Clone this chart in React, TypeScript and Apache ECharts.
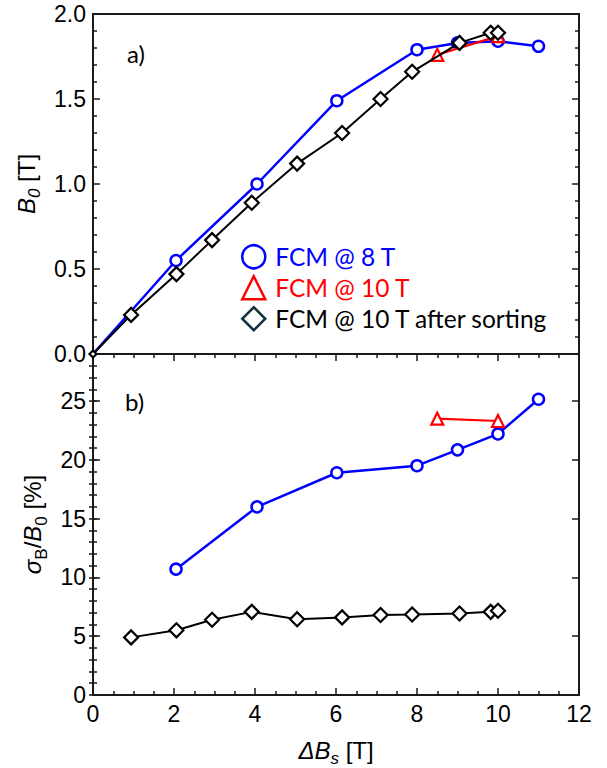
import React, { useEffect, useRef } from 'react';
import * as echarts from 'echarts';

// ---- data ----
const xBlue = [2.05, 4.05, 6.02, 8.0, 9.0, 10.0, 11.0];
const blueB0 = [0.55, 1.0, 1.49, 1.79, 1.83, 1.84, 1.81];
const blueSigma = [10.7, 16.0, 18.9, 19.5, 20.85, 22.2, 25.15];

const xRed = [8.5, 10.0];
const redB0 = [1.76, 1.87];
const redSigma = [23.5, 23.3];

const xBlack = [0.94, 2.06, 2.94, 3.92, 5.04, 6.15, 7.1, 7.88, 9.05, 9.82, 10.0];
const blackB0 = [0.23, 0.47, 0.67, 0.89, 1.12, 1.3, 1.5, 1.66, 1.83, 1.89, 1.89];
const blackSigma = [4.9, 5.5, 6.4, 7.07, 6.45, 6.6, 6.8, 6.85, 6.93, 7.07, 7.16];

const seriesNames = ['FCM @ 8 T', 'FCM @ 10 T', 'FCM @ 10 T after sorting'];
const panelLabels = ['a)', 'b)'];

const BLUE = '#0000ff';
const RED = '#ff0000';
const BLACK = '#000000';
const AXIS = '#1a1a1a';
const TICK_FONT = 'Liberation Sans, Arial, sans-serif';
const LABEL_FONT = 'Lato, Open Sans, sans-serif';

const zip = (xs: number[], ys: number[]) => xs.map((x, i) => [x, ys[i]]);

const LH = 29;
const richName = {
  i: { fontStyle: 'italic', fontSize: 24, fontFamily: TICK_FONT, color: '#000', lineHeight: LH, verticalAlign: 'top' },
  n: { fontSize: 24, fontFamily: TICK_FONT, color: '#000', lineHeight: LH, verticalAlign: 'top' },
  s: { fontSize: 17, fontFamily: TICK_FONT, color: '#000', lineHeight: LH, verticalAlign: 'bottom' },
  si: { fontSize: 17, fontStyle: 'italic', fontFamily: TICK_FONT, color: '#000', lineHeight: LH, verticalAlign: 'bottom' },
};

const axisLine = { show: true, onZero: false, lineStyle: { color: AXIS, width: 2 } };
const majorTick = { show: true, inside: true, length: 7, lineStyle: { color: AXIS, width: 1.5 } };
const minorTickX = { show: true, splitNumber: 4, length: 4, lineStyle: { color: AXIS, width: 1.5 } };
const tickLabel = { fontSize: 23, fontFamily: TICK_FONT, color: '#000', margin: 7 };

export default function App() {
  const ref = useRef<HTMLDivElement>(null);
  useEffect(() => {
    if (!ref.current) return;
    const chart = echarts.init(ref.current, null, { renderer: 'svg' });

    const topBlue = [{ value: [0, 0], symbol: 'none' }, ...zip(xBlue, blueB0)];
    const topBlack = [{ value: [0, 0], symbolSize: 7 }, ...zip(xBlack, blackB0)];

    const blueStyle = {
      type: 'line',
      name: seriesNames[0],
      symbol: 'circle',
      symbolSize: 11,
      itemStyle: { color: '#ffffff', borderColor: BLUE, borderWidth: 2.5 },
      lineStyle: { color: BLUE, width: 2.5 },
      clip: false,
      z: 2,
    };
    const redStyle = {
      type: 'line',
      name: seriesNames[1],
      symbol: 'triangle',
      symbolSize: 12,
      itemStyle: { color: '#ffffff', borderColor: RED, borderWidth: 2.2 },
      lineStyle: { color: RED, width: 2.2 },
      clip: false,
      z: 3,
    };
    const blackStyle = {
      type: 'line',
      name: seriesNames[2],
      symbol: 'diamond',
      symbolSize: 14,
      itemStyle: { color: '#ffffff', borderColor: BLACK, borderWidth: 2.2 },
      lineStyle: { color: BLACK, width: 2 },
      clip: false,
      z: 4,
    };

    chart.setOption({
      animation: false,
      backgroundColor: '#ffffff',
      grid: [
        { left: 93, right: 28, top: 14, height: 340 },
        { left: 93, right: 28, top: 354, height: 341 },
      ],
      legend: {
        orient: 'vertical',
        left: 236,
        top: 239,
        itemWidth: 23,
        itemHeight: 23,
        itemGap: 5.5,
        textStyle: { fontSize: 24.5, lineHeight: 25, fontFamily: LABEL_FONT, padding: [0, 0, 0, 5] },
        data: [
          { name: seriesNames[0], icon: 'circle', itemStyle: { color: '#fff', borderColor: BLUE, borderWidth: 2.5 }, textStyle: { color: BLUE } },
          { name: seriesNames[1], icon: 'triangle', itemStyle: { color: '#fff', borderColor: RED, borderWidth: 2.5 }, textStyle: { color: RED } },
          { name: seriesNames[2], icon: 'diamond', itemStyle: { color: '#fff', borderColor: '#17323f', borderWidth: 2.5 }, textStyle: { color: '#000' } },
        ],
      },
      xAxis: [
        { type: 'value', gridIndex: 0, position: 'bottom', min: 0, max: 12, interval: 2, axisLine, axisTick: { show: false }, axisLabel: { show: false }, splitLine: { show: false } },
        { type: 'value', gridIndex: 0, position: 'top', min: 0, max: 12, interval: 2, axisLine, axisTick: { show: false }, axisLabel: { show: false }, splitLine: { show: false } },
        {
          type: 'value', gridIndex: 1, position: 'bottom', min: 0, max: 12, interval: 2,
          axisLine, axisTick: majorTick, minorTick: minorTickX, splitLine: { show: false }, minorSplitLine: { show: false },
          axisLabel: tickLabel,
          name: '{i|ΔB}{si|s}{n| [T]}', nameLocation: 'middle', nameGap: 43,
          nameTextStyle: { rich: richName },
        },
        {
          type: 'value', gridIndex: 1, position: 'top', min: 0, max: 12, interval: 2,
          axisLine, axisTick: majorTick, minorTick: minorTickX, splitLine: { show: false }, axisLabel: { show: false },
        },
      ],
      yAxis: [
        {
          type: 'value', gridIndex: 0, position: 'left', min: 0, max: 2, interval: 0.5,
          axisLine, axisTick: majorTick, minorTick: { show: true, splitNumber: 5, length: 4, lineStyle: { color: AXIS, width: 1.5 } },
          splitLine: { show: false },
          axisLabel: { ...tickLabel, formatter: (v: number) => v.toFixed(1) },
          name: '{i|B}{si|0}{n| [T]}', nameLocation: 'middle', nameGap: 50, nameRotate: 90,
          nameTextStyle: { rich: richName },
        },
        {
          type: 'value', gridIndex: 0, position: 'right', min: 0, max: 2, interval: 0.5,
          axisLine, axisTick: majorTick, minorTick: { show: true, splitNumber: 5, length: 4, lineStyle: { color: AXIS, width: 1.5 } },
          splitLine: { show: false }, axisLabel: { show: false },
        },
        {
          type: 'value', gridIndex: 1, position: 'left', min: 0, max: 29, interval: 5,
          axisLine, axisTick: majorTick, splitLine: { show: false },
          axisLabel: { ...tickLabel, formatter: (v: number) => (v % 5 === 0 ? String(v) : '') },
          name: '{i|σ}{s|B}{n|/}{i|B}{s|0}{n| [%]}', nameLocation: 'middle', nameGap: 42, nameRotate: 90,
          nameTextStyle: { rich: richName },
        },
        {
          type: 'value', gridIndex: 1, position: 'right', min: 0, max: 29, interval: 5,
          axisLine, axisTick: majorTick, splitLine: { show: false }, axisLabel: { show: false },
        },
        {
          type: 'value', gridIndex: 1, position: 'left', min: 0, max: 29, interval: 1,
          axisLine: { show: false }, axisTick: { show: true, inside: true, length: 4, lineStyle: { color: AXIS, width: 1.5 } },
          splitLine: { show: false }, axisLabel: { show: false },
        },
        {
          type: 'value', gridIndex: 1, position: 'right', min: 0, max: 29, interval: 1,
          axisLine: { show: false }, axisTick: { show: true, inside: true, length: 4, lineStyle: { color: AXIS, width: 1.5 } },
          splitLine: { show: false }, axisLabel: { show: false },
        },
      ],
      graphic: [
        { type: 'text', left: 127, top: 41, style: { text: panelLabels[0], fontSize: 24, fontFamily: LABEL_FONT, fill: '#000' } },
        { type: 'text', left: 125, top: 389, style: { text: panelLabels[1], fontSize: 24, fontFamily: LABEL_FONT, fill: '#000' } },
      ],
      series: [
        { ...blueStyle, xAxisIndex: 0, yAxisIndex: 0, data: topBlue },
        { ...redStyle, xAxisIndex: 0, yAxisIndex: 0, data: zip(xRed, redB0) },
        { ...blackStyle, xAxisIndex: 0, yAxisIndex: 0, data: topBlack },
        { ...blueStyle, xAxisIndex: 2, yAxisIndex: 2, data: zip(xBlue, blueSigma) },
        { ...redStyle, xAxisIndex: 2, yAxisIndex: 2, data: zip(xRed, redSigma) },
        { ...blackStyle, xAxisIndex: 2, yAxisIndex: 2, data: zip(xBlack, blackSigma) },
      ],
    });
    return () => chart.dispose();
  }, []);
  return <div ref={ref} style={{ width: 607, height: 768, position: 'absolute', left: 0, top: 0 }} />;
}
